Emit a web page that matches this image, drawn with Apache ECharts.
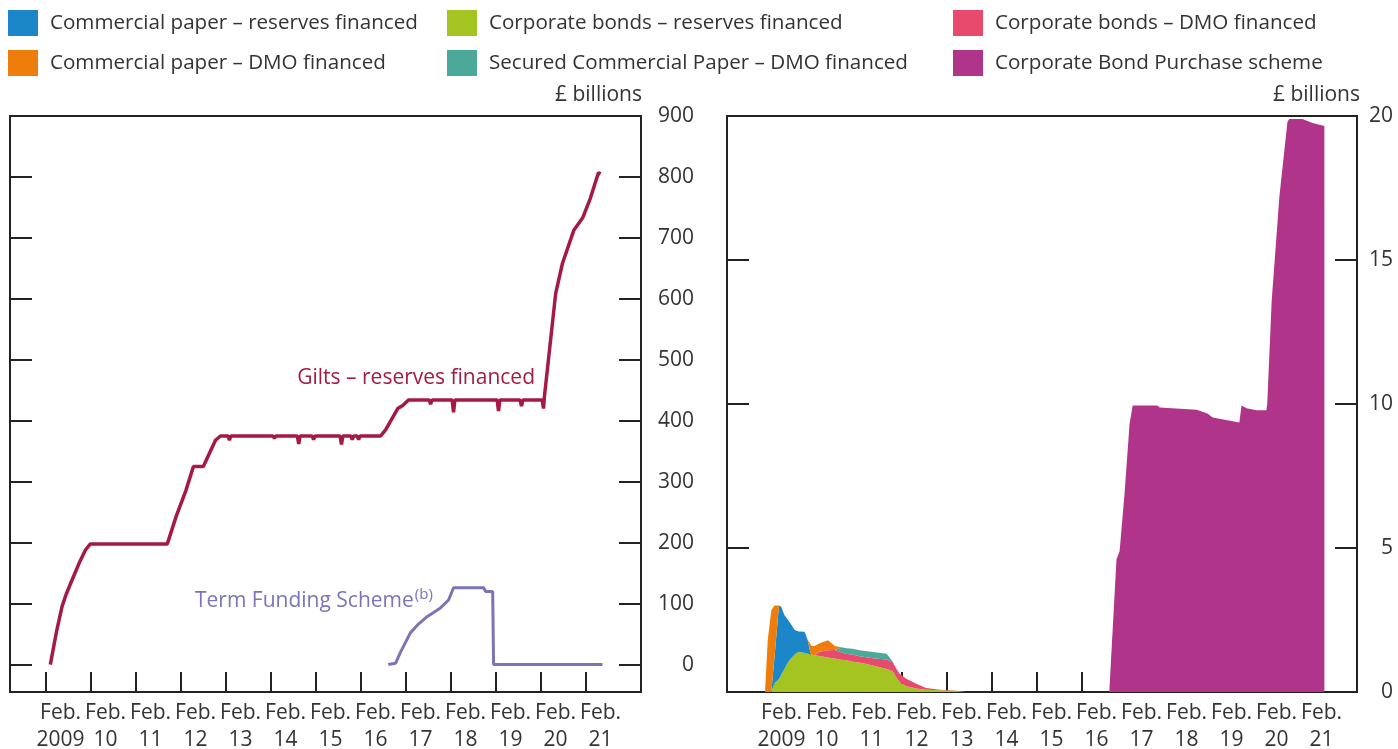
<!DOCTYPE html>
<html>
<head>
<meta charset="utf-8">
<script src="https://cdn.jsdelivr.net/npm/echarts@6/dist/echarts.min.js"></script>
<style>
  html, body { margin: 0; padding: 0; background: #fff; }
  #container { width: 1398px; height: 749px; }
</style>
</head>
<body>
<div id="container"></div>
<script>
var dom = document.getElementById('container');
var myChart = echarts.init(dom);

// tick years (Feb. of each year) and their labels
var tickYears = [2009, 2010, 2011, 2012, 2013, 2014, 2015, 2016, 2017, 2018, 2019, 2020, 2021];
var tickLabels = ['2009', '10', '11', '12', '13', '14', '15', '16', '17', '18', '19', '20', '21'];
var leftYTicks = [0, 100, 200, 300, 400, 500, 600, 700, 800];
var leftYLabels = [0, 100, 200, 300, 400, 500, 600, 700, 800, 900];
var rightYTicks = [5, 10, 15];
var rightYLabels = [0, 5, 10, 15, 20];

// left panel: gilts (reserves financed), £ billions
var giltDates = [2009.19, 2009.33, 2009.45, 2009.54, 2009.68, 2009.84, 2009.97, 2010.08, 2011.79, 2011.99,
  2012.2, 2012.37, 2012.59, 2012.86, 2012.97,
  2013.14, 2013.17, 2013.2,
  2014.14, 2014.17, 2014.2,
  2014.68, 2014.71, 2014.74,
  2015.01, 2015.04, 2015.07,
  2015.63, 2015.66, 2015.69,
  2015.87, 2015.9, 2015.93, 2016.01, 2016.04, 2016.07,
  2016.53, 2016.64, 2016.91, 2017.02, 2017.15,
  2017.61, 2017.64, 2017.67,
  2018.12, 2018.15, 2018.18,
  2019.12, 2019.15, 2019.18,
  2019.63, 2019.66, 2019.69,
  2020.12, 2020.15, 2020.17, 2020.42, 2020.57, 2020.82, 2021.02, 2021.19, 2021.37, 2021.42];
var giltValues = [0, 55, 95, 115, 140, 168, 188, 198, 198, 244,
  285, 325, 325, 368, 375,
  375, 368, 375,
  375, 371, 375,
  375, 362, 375,
  375, 369, 375,
  375, 361, 375,
  375, 369, 375, 375, 369, 375,
  375, 385, 420, 425, 434,
  434, 427, 434,
  434, 414, 434,
  434, 416, 434,
  434, 424, 434,
  434, 420, 440, 609, 658, 712, 733, 765, 807, 805];

// left panel: Term Funding Scheme
var tfsDates = [2016.70, 2016.86, 2016.97, 2017.19, 2017.35, 2017.57, 2017.86, 2018.04, 2018.15, 2018.82, 2018.86, 2019.02, 2019.04, 2021.46];
var tfsValues = [0, 2, 20, 52, 65, 79, 93, 106, 126, 126, 120, 120, 0, 0];

// right panel: 2009-13 facilities, shared dates, £ billions
var earlyDates = [2009.05, 2009.11, 2009.19, 2009.26, 2009.36, 2009.41, 2009.48, 2009.59, 2009.71, 2009.8,
  2009.93, 2010.0, 2010.05, 2010.08, 2010.15, 2010.26, 2010.45, 2010.6, 2010.75, 2010.86,
  2011.0, 2011.15, 2011.45, 2011.75, 2011.89, 2011.97, 2012.04, 2012.19, 2012.41, 2012.63,
  2012.93, 2013.23, 2013.52];
var cbReserves = [0, 0, 0, 0.3, 0.45, 0.6, 0.8, 1.1, 1.3, 1.4,
  1.35, 1.33, 1.32, 1.3, 1.28, 1.25, 1.2, 1.16, 1.12, 1.1,
  1.05, 1.02, 0.92, 0.8, 0.72, 0.5, 0.35, 0.2, 0.12, 0.08,
  0.06, 0.05, 0];
var cbDmo = [0, 0, 0, 0, 0, 0, 0, 0, 0, 0,
  0, 0, 0, 0, 0, 0.15, 0.25, 0.3, 0.25, 0.22,
  0.25, 0.22, 0.25, 0.33, 0.3, 0.3, 0.28, 0.26, 0.17, 0.06,
  0.02, 0.01, 0];
var cpReserves = [0, 0, 0, 0.9, 2.55, 2.36, 1.87, 1.34, 0.85, 0.7,
  0.74, 0.47, 0.1, 0, 0, 0, 0, 0, 0, 0,
  0, 0, 0, 0, 0, 0, 0, 0, 0, 0,
  0, 0, 0];
var scpDmo = [0, 0, 0, 0, 0, 0, 0, 0, 0, 0,
  0, 0, 0, 0, 0, 0, 0, 0, 0.18, 0.2,
  0.2, 0.21, 0.22, 0.2, 0.03, 0, 0, 0, 0, 0,
  0, 0, 0];
var cpDmo = [0, 1.8, 2.84, 1.8, 0, 0, 0, 0, 0, 0,
  0, 0, 0.28, 0.3, 0.32, 0.29, 0.35, 0.14, 0, 0,
  0, 0, 0, 0, 0, 0, 0, 0, 0, 0,
  0, 0, 0];

// right panel: Corporate Bond Purchase scheme
var cbpsDates = [2016.70, 2016.86, 2016.93, 2017.04, 2017.15, 2017.22, 2017.77, 2017.82, 2018.64, 2018.88,
  2019.0, 2019.59, 2019.64, 2019.75, 2019.97, 2020.19, 2020.21, 2020.31, 2020.48, 2020.66,
  2020.70, 2020.99, 2021.22, 2021.48, 2021.481];
var cbpsValues = [0, 4.6, 4.9, 6.9, 9.3, 9.95, 9.95, 9.88, 9.8, 9.67,
  9.53, 9.36, 9.95, 9.85, 9.78, 9.78, 10.0, 13.6, 17.2, 19.8,
  19.9, 19.9, 19.76, 19.65, 0];

var FONT = 'Open Sans';
var FS = 21;
var TXT = '#333333';
var AX = '#222222';
var GILT = '#A51A44';
var TFS = '#7B74B6';

// [value, date] pairs: value first so the stack runs on the value dimension
function pairs(xs, ys) {
  return xs.map(function (x, i) { return [ys[i], x]; });
}
var febTicks = tickYears.map(function (y) { return y + 0.085; });

function xAxisFor(grid, min, max) {
  var marks = [min].concat(febTicks, [max]);
  return {
    type: 'value', gridIndex: grid, min: min, max: max,
    splitLine: {show: false},
    axisLine: {show: false, onZero: false},
    axisTick: {show: true, inside: true, length: 20, customValues: marks,
      lineStyle: {color: AX, width: 2}},
    axisLabel: {
      show: true, customValues: marks, margin: 8,
      showMinLabel: true, showMaxLabel: true, hideOverlap: false,
      fontFamily: FONT, fontSize: FS, color: TXT, lineHeight: 27,
      align: 'center', padding: [0, 0, 0, 30],
      formatter: function (v) {
        var i = Math.round(v - 0.085) - 2009;
        if (Math.abs(v - febTicks[i]) > 0.01 || !tickLabels[i]) return '';
        return 'Feb.\n' + tickLabels[i];
      }
    }
  };
}

function yAxisFor(grid, pos, min, max, ticks, labels, margin) {
  return {
    type: 'value', gridIndex: grid, position: pos, min: min, max: max,
    splitLine: {show: false},
    axisLine: {show: false, onZero: false},
    axisTick: {show: true, inside: true, length: 22, customValues: ticks,
      lineStyle: {color: AX, width: 2}},
    axisLabel: labels ? {
      show: true, customValues: labels, margin: margin, align: 'right',
      fontFamily: FONT, fontSize: FS, color: TXT
    } : {show: false}
  };
}

function area(name, color, xs, ys, stack) {
  return {
    name: name, type: 'line', xAxisIndex: 1, yAxisIndex: 3,
    stack: stack, symbol: 'none', smooth: false,
    encode: {x: 1, y: 0},
    data: pairs(xs, ys),
    itemStyle: {color: color},
    lineStyle: {width: 0},
    areaStyle: {color: color, opacity: 1},
    emphasis: {disabled: true}
  };
}

var legendText = {fontFamily: FONT, fontSize: 20.6, color: TXT, padding: [0, 0, 0, 7]};
function legendCol(left, names) {
  return {
    left: left, top: 10, orient: 'vertical', icon: 'rect', padding: 0,
    itemWidth: 30, itemHeight: 26, itemGap: 14,
    selectedMode: false, data: names, textStyle: legendText
  };
}

var option = {
  animation: false,
  backgroundColor: '#ffffff',
  legend: [
    legendCol(8, ['Commercial paper \u2013 reserves financed', 'Commercial paper \u2013 DMO financed']),
    legendCol(447, ['Corporate bonds \u2013 reserves financed', 'Secured Commercial Paper \u2013 DMO financed']),
    legendCol(953, ['Corporate bonds \u2013 DMO financed', 'Corporate Bond Purchase scheme'])
  ],
  grid: [
    {left: 10, top: 116, width: 631, height: 576, show: true, borderColor: AX, borderWidth: 2,
      backgroundColor: 'transparent', containLabel: false, outerBoundsMode: 'none'},
    {left: 727, top: 116, width: 630, height: 576, show: true, borderColor: AX, borderWidth: 2,
      backgroundColor: 'transparent', containLabel: false, outerBoundsMode: 'none'}
  ],
  xAxis: [
    xAxisFor(0, 2008.294, 2022.316),
    xAxisFor(1, 2008.205, 2022.205)
  ],
  yAxis: [
    yAxisFor(0, 'left', -45, 900, leftYTicks, null, 0),
    yAxisFor(0, 'right', -45, 900, leftYTicks, leftYLabels, 53),
    yAxisFor(1, 'left', 0, 20, rightYTicks, null, 0),
    yAxisFor(1, 'right', 0, 20, rightYTicks, rightYLabels, 36)
  ],
  series: [
    {
      name: 'Gilts \u2013 reserves financed', type: 'line', xAxisIndex: 0, yAxisIndex: 1,
      symbol: 'none', encode: {x: 1, y: 0}, data: pairs(giltDates, giltValues),
      lineStyle: {color: GILT, width: 3.5}, itemStyle: {color: GILT},
      emphasis: {disabled: true}
    },
    {
      name: 'Term Funding Scheme', type: 'line', xAxisIndex: 0, yAxisIndex: 1,
      symbol: 'none', encode: {x: 1, y: 0}, data: pairs(tfsDates, tfsValues),
      lineStyle: {color: TFS, width: 3}, itemStyle: {color: TFS},
      emphasis: {disabled: true}
    },
    area('Corporate bonds \u2013 reserves financed', '#A4C521', earlyDates, cbReserves, 'early'),
    area('Corporate bonds \u2013 DMO financed', '#E74A6C', earlyDates, cbDmo, 'early'),
    area('Commercial paper \u2013 reserves financed', '#1C87C8', earlyDates, cpReserves, 'early'),
    area('Secured Commercial Paper \u2013 DMO financed', '#4BA99A', earlyDates, scpDmo, 'early'),
    area('Commercial paper \u2013 DMO financed', '#EF7D0B', earlyDates, cpDmo, 'early'),
    area('Corporate Bond Purchase scheme', '#AF348A', cbpsDates, cbpsValues, null)
  ],
  graphic: [
    {type: 'text', x: 642, y: 95, style: {text: '\u00a3 billions', align: 'right', verticalAlign: 'middle',
      fontFamily: FONT, fontSize: FS, fill: TXT}},
    {type: 'text', x: 1360, y: 95, style: {text: '\u00a3 billions', align: 'right', verticalAlign: 'middle',
      fontFamily: FONT, fontSize: FS, fill: TXT}},
    {type: 'text', x: 535, y: 378, style: {text: 'Gilts \u2013 reserves financed', align: 'right', verticalAlign: 'middle',
      fontFamily: FONT, fontSize: FS, fill: GILT}},
    {type: 'text', x: 195, y: 601, style: {
      text: '{a|Term Funding Scheme}{b|(b)}', align: 'left', verticalAlign: 'middle',
      rich: {
        a: {fontFamily: FONT, fontSize: FS, fill: TFS, color: TFS},
        b: {fontFamily: FONT, fontSize: 15, fill: TFS, color: TFS, padding: [0, 0, 12, 1]}
      }}}
  ]
};

myChart.setOption(option);
</script>
</body>
</html>
